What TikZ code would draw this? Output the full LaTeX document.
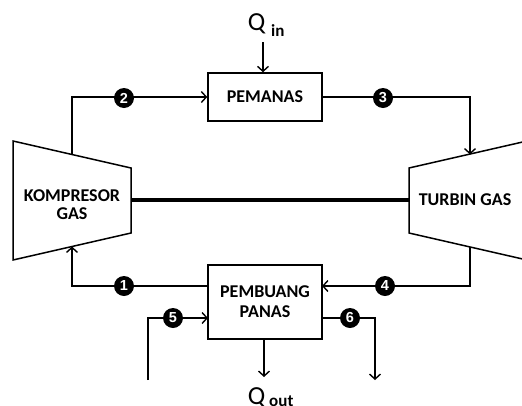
\documentclass[tikz,border=0pt]{standalone}
\usepackage{fontspec}
\setmainfont{Carlito}
\newfontfamily\numfont{Liberation Sans}
\usetikzlibrary{arrows.meta,calc}
\begin{document}
\begin{tikzpicture}[x=1pt,y=-1pt,
  line width=1.5pt,
  tip/.style={-{Straight Barb[length=5pt,width=11pt,line width=1.4pt]}},
  box/.style={draw,line width=1.5pt,minimum width=114pt,align=center,font=\fontsize{18}{19}\selectfont\bfseries,inner sep=0pt},
  num/.style={circle,fill=black,text=white,inner sep=0pt,minimum size=20pt,font=\numfont\fontsize{14.5}{14.5}\selectfont\bfseries},
  lbl/.style={font=\fontsize{18}{20}\selectfont\bfseries,align=center}]
\clip (0,0) rectangle (522,405);
\fill[white] (0,0) rectangle (522,405);
% components
\node[box,minimum height=48pt] (pemanas) at (265,97) {PEMANAS};
\node[box,minimum height=74pt] (pembuang) at (265,302) {PEMBUANG\\[1pt]PANAS};
\draw[line width=1.5pt] (13,141) -- (131,168) -- (131,233) -- (13,260) -- cycle;
\draw[line width=1.5pt] (527,141) -- (409,168) -- (409,233) -- (527,260);
\node[lbl] (komp) at (72,205) {KOMPRESOR\\[-2pt]GAS};
\node[lbl] (turb) at (465,200) {TURBIN GAS};
% shaft
\coordinate (ks) at (131,200);
\coordinate (ts) at (409,200);
\draw[line width=4.5pt] (ks) -- (ts);
% ports
\coordinate (kt) at (72,154.5);
\coordinate (kb) at (72,246.5);
\coordinate (tt) at (470,154.5);
\coordinate (tb) at (470,246.5);
\coordinate (pw1) at (208,286);
\coordinate (pe1) at (322,286);
\coordinate (pw2) at (208,318);
\coordinate (pe2) at (322,318);
\coordinate (in5) at (148,380);
\coordinate (out6) at (375,380);
\coordinate (qin) at (263,42);
\coordinate (qout) at (264,377);
% connectors
\draw[tip] (kt) |- (pemanas.west);
\draw[tip] (pemanas.east) -| (tt);
\draw[tip] (tb) |- (pe1);
\draw[tip] (pw1) -| (kb);
\draw[tip] (in5) |- (pw2);
\draw[tip] (pe2) -| (out6);
\draw[tip] (qin) -- (pemanas.north -| qin);
\draw[tip] (pembuang.south -| qout) -- (qout);
% state points
\node[num] (n2) at (124,98) {2};
\node[num] (n3) at (383,98) {3};
\node[num] (n1) at (124,286) {1};
\node[num] (n4) at (385,286) {4};
\node[num] (n5) at (173,318) {5};
\node[num] (n6) at (350,318) {6};
% heat labels
\node[anchor=base west,inner sep=0pt] (Qi) at (247,30) {\fontsize{26}{26}\selectfont Q\hspace{6pt}\raisebox{-6pt}{\fontsize{17}{17}\selectfont\bfseries in}};
\node[anchor=base west,inner sep=0pt] (Qo) at (247,404) {\fontsize{26}{26}\selectfont Q\hspace{4pt}\raisebox{-2pt}{\fontsize{17}{17}\selectfont\bfseries out}};
\end{tikzpicture}
\end{document}
